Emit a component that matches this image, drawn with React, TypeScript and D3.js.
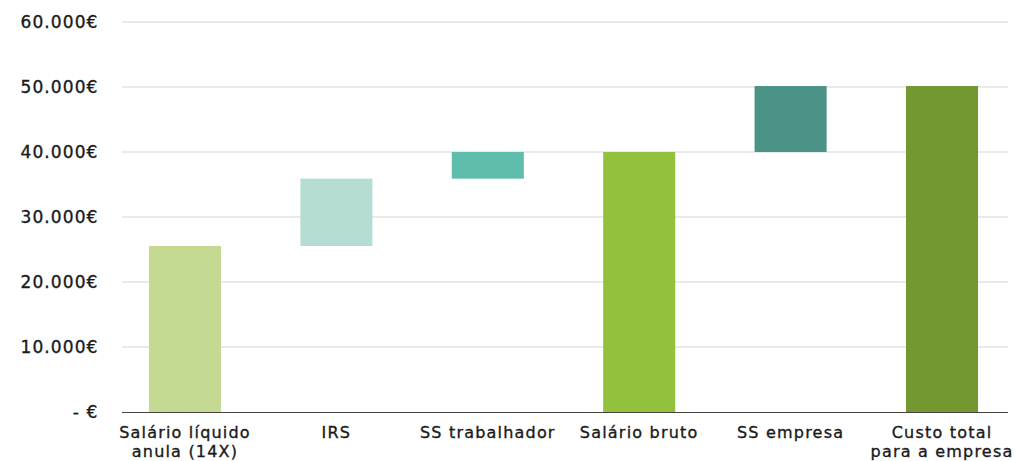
import { useEffect, useRef } from "react";
import * as d3 from "d3";

// waterfall: each bar runs from barStart to barEnd (€)
const categories = [
  ["Salário líquido", "anula (14X)"],
  ["IRS"],
  ["SS trabalhador"],
  ["Salário bruto"],
  ["SS empresa"],
  ["Custo total", "para a empresa"],
];
const barStart = [0, 25540, 35900, 0, 40000, 0];
const barEnd = [25540, 35900, 40000, 40000, 50150, 50150];
const barColors = ["#c4da92", "#b5ddd4", "#5fbdac", "#93c13e", "#4a9386", "#739731"];
const yTicks = [0, 10000, 20000, 30000, 40000, 50000, 60000];

export default function App() {
  const ref = useRef<SVGSVGElement | null>(null);

  useEffect(() => {
    if (!ref.current) return;
    const svg = d3.select(ref.current);
    svg.selectAll("*").remove();

    const width = 1015, height = 461;
    const font = "'DejaVu Sans', sans-serif";
    const keys = categories.map((c) => c.join(" "));

    const x = d3.scaleBand<string>()
      .domain(keys)
      .range([109.3, 1017.7])
      .paddingInner(0.524)
      .paddingOuter(0.262);

    const y = d3.scaleLinear().domain([0, 60000]).range([412, 22]);

    const fmt = (v: number) =>
      v === 0 ? "- €" : d3.format(",")(v).replace(/,/g, ".") + "€";

    svg.attr("width", width).attr("height", height);

    // gridlines
    svg.append("g")
      .selectAll("line")
      .data(yTicks.filter((t) => t > 0))
      .join("line")
      .attr("x1", 122)
      .attr("x2", 1008)
      .attr("y1", (d) => y(d))
      .attr("y2", (d) => y(d))
      .attr("stroke", "#e3e3e3")
      .attr("stroke-width", 1.5);

    // y labels
    svg.append("g")
      .selectAll("text")
      .data(yTicks)
      .join("text")
      .attr("x", 98.5)
      .attr("y", (d) => y(d))
      .attr("dy", "0.36em")
      .attr("text-anchor", "end")
      .attr("font-family", font)
      .attr("font-size", 17)
      .attr("letter-spacing", 1.1)
      .attr("fill", "#1a1a1a")
      .attr("stroke", "#1a1a1a")
      .attr("stroke-width", 0.35)
      .text(fmt);

    // bars
    svg.append("g")
      .selectAll("rect")
      .data(keys)
      .join("rect")
      .attr("x", (d) => x(d)!)
      .attr("width", x.bandwidth())
      .attr("y", (_, i) => y(barEnd[i]))
      .attr("height", (_, i) => y(barStart[i]) - y(barEnd[i]))
      .attr("fill", (_, i) => barColors[i]);

    // baseline
    svg.append("line")
      .attr("x1", 122)
      .attr("x2", 1008)
      .attr("y1", y(0) + 0.5)
      .attr("y2", y(0) + 0.5)
      .attr("stroke", "#444")
      .attr("stroke-width", 1);

    // category labels
    const lab = svg.append("g")
      .selectAll("text")
      .data(categories)
      .join("text")
      .attr("x", (_, i) => x(keys[i])! + x.bandwidth() / 2)
      .attr("y", 438.3)
      .attr("text-anchor", "middle")
      .attr("font-family", font)
      .attr("font-size", 16)
      .attr("letter-spacing", 1.2)
      .attr("fill", "#1a1a1a")
      .attr("stroke", "#1a1a1a")
      .attr("stroke-width", 0.35);
    lab.selectAll("tspan")
      .data((d) => d)
      .join("tspan")
      .attr("x", function () {
        return (this.parentNode as SVGTextElement).getAttribute("x");
      })
      .attr("dy", (_, j) => (j === 0 ? 0 : 18.7))
      .text((d) => d);
  }, []);

  return (
    <svg
      ref={ref}
      style={{ position: "absolute", left: 0, top: 0, display: "block", background: "#fff" }}
    />
  );
}
